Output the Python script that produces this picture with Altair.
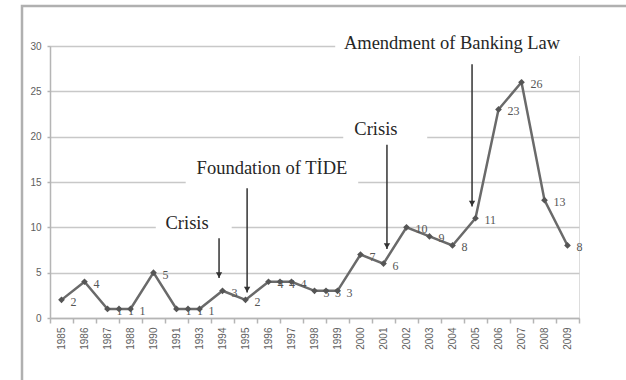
import altair as alt
import pandas as pd

# Category labels along the x axis (one slot per label)
year_labels = ["1985", "1986", "1987", "1988", "1990", "1991", "1993", "1994",
               "1995", "1996", "1997", "1998", "1999", "2000", "2001", "2002",
               "2003", "2004", "2005", "2006", "2007", "2008", "2009"]

# Point positions along the category axis (half steps are in-between observations)
positions = [0, 1, 2, 2.5, 3, 4, 5, 5.5, 6, 7, 8, 9, 9.5, 10, 11, 11.5, 12,
             13, 14, 15, 16, 17, 18, 19, 20, 21, 22]
counts = [2, 4, 1, 1, 1, 5, 1, 1, 1, 3, 2, 4, 4, 4, 3, 3, 3,
          7, 6, 10, 9, 8, 11, 23, 26, 13, 8]

# Event annotations: text, text anchor, white backing box, arrow
ann_text = ["Amendment of Banking Law", "Crisis", "Foundation of TİDE", "Crisis"]
ann_tx = [16.98, 13.67, 9.15, 5.46]
ann_ty = [30.3, 20.9, 16.5, 10.5]
box_x1 = [11.9, 12.25, 5.4, 4.1]
box_x2 = [23.5, 15.9, 12.9, 7.4]
box_y1 = [28.9, 19.6, 14.5, 9.5]
box_y2 = [31.2, 21.8, 17.6, 11.7]
arrow_x = [17.85, 14.15, 8.07, 6.85]
arrow_top = [28.0, 19.1, 14.3, 8.8]
arrow_tip = [12.3, 7.6, 2.8, 4.4]

series = pd.DataFrame({"pos": positions, "count": counts})
notes = pd.DataFrame({
    "text": ann_text, "tx": ann_tx, "ty": ann_ty,
    "bx1": box_x1, "bx2": box_x2, "by1": box_y1, "by2": box_y2,
    "ax": arrow_x, "atop": arrow_top, "atip": arrow_tip,
})

label_array = "[" + ",".join("'%s'" % y for y in year_labels) + "]"
n_slots = len(year_labels)

x_scale = alt.Scale(domain=[-0.5, n_slots - 0.5], nice=False, zero=False)
y_scale = alt.Scale(domain=[0, 30], nice=False)

# Ticks sit on slot boundaries; labels are shifted half a slot to the centre
x_enc = alt.X(
    "pos:Q", scale=x_scale, title=None,
    axis=alt.Axis(
        values=[i - 0.5 for i in range(n_slots + 1)],
        tickCount=n_slots + 5,
        labelExpr=label_array + "[round(datum.value + 0.5)] || ''",
        labelOffset=11.5, labelAngle=270, labelOverlap=False, labelFlush=False,
        labelBound=False,
        labelFont="Liberation Sans", labelFontSize=10, labelColor="#5e5e5e",
        labelPadding=4, tickSize=5, tickColor="#b5b5b5", tickWidth=1.5,
        domainColor="#b5b5b5", domainWidth=1.5, grid=False,
    ),
)
y_enc = alt.Y(
    "count:Q", scale=y_scale, title=None,
    axis=alt.Axis(
        values=[0, 5, 10, 15, 20, 25, 30],
        labelFont="Liberation Sans", labelFontSize=10, labelColor="#5e5e5e",
        labelPadding=6, tickSize=3, tickColor="#b5b5b5", tickWidth=1.5,
        domainColor="#b5b5b5", domainWidth=1.5,
        grid=True, gridColor="#c8c8c8", gridWidth=1.5,
    ),
)

base = alt.Chart(series)

line = base.mark_line(color="#6a6a6a", strokeWidth=2.5).encode(x=x_enc, y=y_enc)
points = base.mark_point(shape="diamond", filled=True, size=45, color="#555555",
                         opacity=1).encode(x="pos:Q", y="count:Q")
values = base.mark_text(align="left", baseline="middle", dx=9, dy=2,
                        font="Liberation Serif", fontSize=12,
                        color="#555555").encode(x="pos:Q", y="count:Q",
                                                text="count:Q")

note_base = alt.Chart(notes)
boxes = note_base.mark_rect(color="white").encode(
    x="bx1:Q", x2="bx2", y="by1:Q", y2="by2")
note_text = note_base.mark_text(font="Liberation Serif", fontSize=18.5,
                                color="#262626", baseline="middle").encode(
    x="tx:Q", y="ty:Q", text="text:N")
arrow_shaft = note_base.mark_rule(color="#333333", strokeWidth=1.5).encode(
    x="ax:Q", y="atop:Q", y2="atip")
arrow_head = note_base.mark_point(shape="triangle-down", filled=True, size=40,
                                  color="#333333", opacity=1, yOffset=-3).encode(
    x="ax:Q", y="atip:Q")

# Outer frame around the whole figure
frame = alt.Chart(pd.DataFrame({"k": [0]})).mark_rect(
    fillOpacity=0, stroke="#b0b0b0", strokeWidth=2.5).encode(
    x=alt.value(-28), x2=alt.value(700), y=alt.value(-40), y2=alt.value(500))

chart = alt.layer(
    boxes, line, points, values, arrow_shaft, arrow_head, note_text, frame
).properties(
    width=529, height=272,
    autosize=alt.AutoSizeParams(type="none"),
    padding={"left": 50, "top": 46, "right": 47, "bottom": 62},
).configure_view(stroke=None).configure(background="white")

chart.save("out.html", embed_options={"renderer": "svg", "actions": False})
